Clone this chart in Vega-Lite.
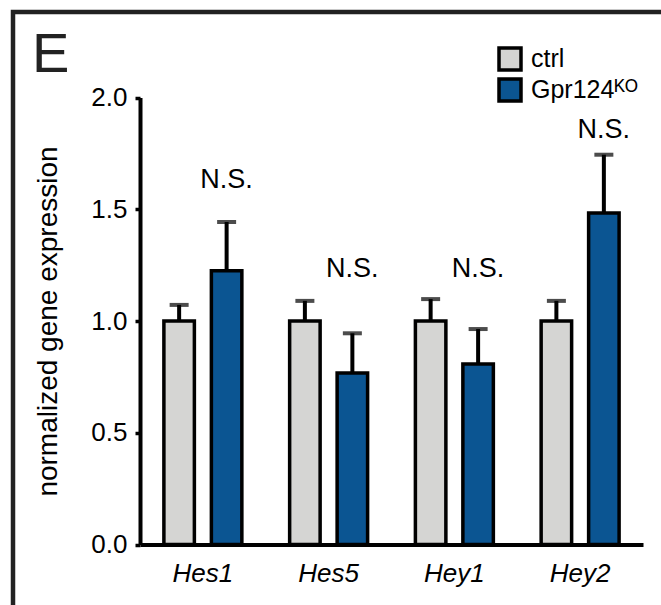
{
  "$schema": "https://vega.github.io/schema/vega-lite/v6.json",
  "width": 648,
  "height": 593,
  "autosize": {"type": "none"},
  "padding": {"left": 13, "top": 12, "right": 0, "bottom": 0},
  "background": "white",
  "config": {
    "font": "Liberation Sans",
    "view": {"stroke": "#222222", "strokeWidth": 4.5, "strokeDash": [648, 1241, 593], "strokeCap": "square", "fill": null},
    "axis": {"grid": false}
  },
  "title": {"text": "E", "anchor": "start", "frame": "group", "orient": "top", "offset": -116, "baseline": "alphabetic", "dx": 19, "fontSize": 56, "fontWeight": "normal", "color": "#222222"},
  "data": {
    "values": [
      {"gene": "Hes1", "group": "ctrl", "value": 1.0, "upper": 1.072},
      {"gene": "Hes1", "group": "Gpr124ᴷᴼ", "value": 1.225, "upper": 1.443, "sig": "N.S.", "sig_y": 1.597},
      {"gene": "Hes5", "group": "ctrl", "value": 1.0, "upper": 1.09},
      {"gene": "Hes5", "group": "Gpr124ᴷᴼ", "value": 0.767, "upper": 0.945, "sig": "N.S.", "sig_y": 1.198},
      {"gene": "Hey1", "group": "ctrl", "value": 1.0, "upper": 1.098},
      {"gene": "Hey1", "group": "Gpr124ᴷᴼ", "value": 0.808, "upper": 0.964, "sig": "N.S.", "sig_y": 1.198},
      {"gene": "Hey2", "group": "ctrl", "value": 1.0, "upper": 1.09},
      {"gene": "Hey2", "group": "Gpr124ᴷᴼ", "value": 1.483, "upper": 1.744, "sig": "N.S.", "sig_y": 1.82}
    ]
  },
  "encoding": {
    "x": {
      "field": "gene", "type": "nominal", "sort": ["Hes1", "Hes5", "Hey1", "Hey2"],
      "scale": {"range": [127, 630], "paddingInner": 0.38, "paddingOuter": 0.19},
      "axis": {"title": null, "orient": "bottom", "offset": -60.5, "domainColor": "black", "domainWidth": 4, "ticks": false, "tickSize": 0, "labelAngle": 0, "labelFontSize": 26, "labelFontStyle": "italic", "labelColor": "black", "labelPadding": 16, "labelDx": 10}
    },
    "xOffset": {"field": "group", "type": "nominal", "sort": ["ctrl", "Gpr124ᴷᴼ"], "scale": {"paddingInner": 0.358, "paddingOuter": 0}}
  },
  "layer": [
    {
      "mark": {"type": "rule", "strokeWidth": 4, "color": "black"},
      "encoding": {
        "y": {
          "field": "value", "type": "quantitative",
          "scale": {"domain": [0, 2], "range": [532.5, 85.5], "nice": false},
          "axis": {"title": "normalized gene expression", "orient": "left", "offset": -127, "values": [0, 0.5, 1, 1.5, 2], "format": ".1f", "domainColor": "black", "domainWidth": 4, "tickColor": "black", "tickWidth": 3.5, "tickSize": 5, "labelFontSize": 26, "labelColor": "black", "labelPadding": 8, "titleFontSize": 28, "titleFontWeight": "normal", "titleColor": "black", "titlePadding": 28}
        },
        "y2": {"field": "upper"}
      }
    },
    {
      "mark": {"type": "bar", "stroke": "black", "strokeWidth": 3.5},
      "encoding": {
        "y": {"field": "value", "type": "quantitative"},
        "color": {
          "field": "group", "type": "nominal",
          "scale": {"domain": ["ctrl", "Gpr124ᴷᴼ"], "range": ["#d5d5d3", "#0b5592"]},
          "legend": {"title": null, "orient": "none", "legendX": 484, "legendY": 34, "symbolType": "square", "symbolSize": 484, "symbolStrokeColor": "black", "symbolStrokeWidth": 3.5, "symbolOpacity": 1, "labelFontSize": 25, "labelColor": "black", "labelOffset": 8, "rowPadding": -7, "padding": 0}
        }
      }
    },
    {
      "mark": {"type": "tick", "size": 19, "thickness": 4, "color": "black"},
      "encoding": {
        "y": {"field": "upper", "type": "quantitative"}
      }
    },
    {
      "transform": [{"filter": "datum.sig != null"}],
      "mark": {"type": "text", "fontSize": 27, "baseline": "alphabetic", "align": "center", "color": "black"},
      "encoding": {
        "y": {"field": "sig_y", "type": "quantitative"},
        "text": {"field": "sig"}
      }
    }
  ]
}
